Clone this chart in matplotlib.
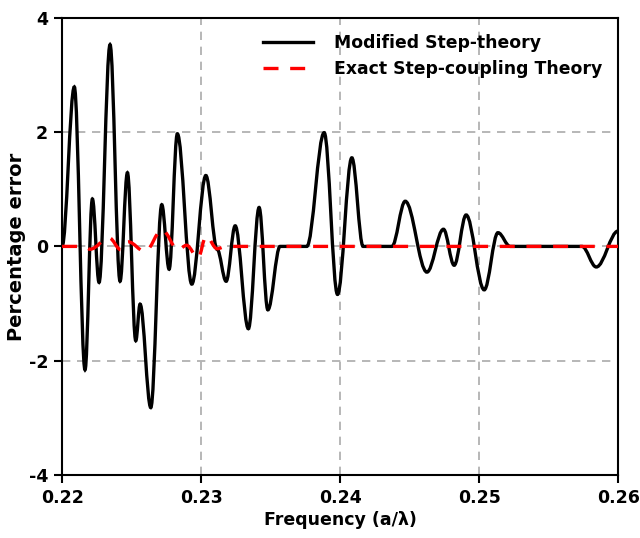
import numpy as np
import matplotlib
matplotlib.use('agg')
import matplotlib.pyplot as plt
from matplotlib.path import Path
from matplotlib.patches import PathPatch
from matplotlib.lines import Line2D

plt.rcParams['font.family'] = ['DejaVu Sans']
plt.rcParams['font.weight'] = 'bold'
plt.rcParams['axes.unicode_minus'] = False

# turning points (frequency a/lambda, percentage error)
mod_freq = [0.22000, 0.22088, 0.22165, 0.22218, 0.22266, 0.22345, 0.22417, 0.22470,
            0.22530, 0.22561, 0.22638, 0.22717, 0.22770, 0.22829, 0.22933, 0.23034,
            0.23115, 0.23180, 0.23245, 0.23340, 0.23417, 0.23480, 0.23568, 0.23760,
            0.23885, 0.23981, 0.24084, 0.24165, 0.24372, 0.24468, 0.24624, 0.24743,
            0.24820, 0.24906, 0.25036, 0.25135, 0.25223, 0.25739, 0.25842, 0.26000]
mod_err = [0.00, 2.79, -2.16, 0.83, -0.63, 3.53, -0.61, 1.29,
           -1.65, -1.01, -2.82, 0.73, -0.40, 1.97, -0.66, 1.24,
           -0.05, -0.61, 0.36, -1.44, 0.68, -1.11, 0.00, 0.00,
           1.99, -0.84, 1.55, 0.00, 0.00, 0.79, -0.45, 0.30,
           -0.33, 0.55, -0.76, 0.24, 0.00, 0.00, -0.36, 0.27]

exact_freq = [0.22000, 0.22158, 0.22201, 0.22338, 0.22424, 0.22475, 0.22597, 0.22719,
              0.22835, 0.22895, 0.22978, 0.23036, 0.23115, 0.23180, 0.26000]
exact_err = [0.00, 0.00, -0.05, 0.15, -0.06, 0.08, -0.09, 0.29,
             -0.06, 0.02, -0.20, 0.18, -0.04, 0.00, 0.00]

xticks = [0.22, 0.23, 0.24, 0.25, 0.26]
yticks = [-4, -2, 0, 2, 4]


def smooth_path(xs, ys, k=0.36):
    # cubic segments with flat tangents at every turning point
    verts = [(xs[0], ys[0])]
    codes = [Path.MOVETO]
    for i in range(1, len(xs)):
        dx = xs[i] - xs[i - 1]
        verts += [(xs[i - 1] + k * dx, ys[i - 1]), (xs[i] - k * dx, ys[i]), (xs[i], ys[i])]
        codes += [Path.CURVE4] * 3
    return Path(verts, codes)


fig = plt.figure(figsize=(6.4, 5.38), dpi=100)
ax = fig.add_axes([0.097, 0.117, 0.869, 0.850])

ax.add_patch(PathPatch(smooth_path(mod_freq, mod_err), fill=False, edgecolor='black',
                       lw=2.4, zorder=3))
ax.add_patch(PathPatch(smooth_path(exact_freq, exact_err), fill=False, edgecolor='red',
                       lw=2.4, linestyle=(0, (4.5, 3.5)), zorder=4))

ax.set_xlim(0.22, 0.26)
ax.set_ylim(-4, 4)
ax.set_xticks(xticks)
ax.set_yticks(yticks)
ax.set_xticklabels(['%.2f' % v for v in xticks])
ax.set_yticklabels([str(v) for v in yticks])
ax.grid(True, color='#aaaaaa', lw=1.2, linestyle=(0, (5, 4)), zorder=1)
ax.set_axisbelow(True)

for s in ax.spines.values():
    s.set_linewidth(1.5)
ax.tick_params(direction='out', length=6, width=1.5, labelsize=12.5, pad=4)
ax.set_xlabel('Frequency (a/λ)', fontsize=12.5, fontweight='bold', labelpad=3)
ax.set_ylabel('Percentage error', fontsize=14, fontweight='bold', labelpad=2)

handles = [Line2D([], [], color='black', lw=2.4),
           Line2D([], [], color='red', lw=2.4, linestyle=(0, (4.5, 3.5)))]
ax.legend(handles, ['Modified Step-theory', 'Exact Step-coupling Theory'],
          loc='upper right', frameon=False, fontsize=12.4, handlelength=2.9,
          handletextpad=1.2, borderaxespad=0.55, labelspacing=0.45)

fig.savefig('out.png', dpi=100)
